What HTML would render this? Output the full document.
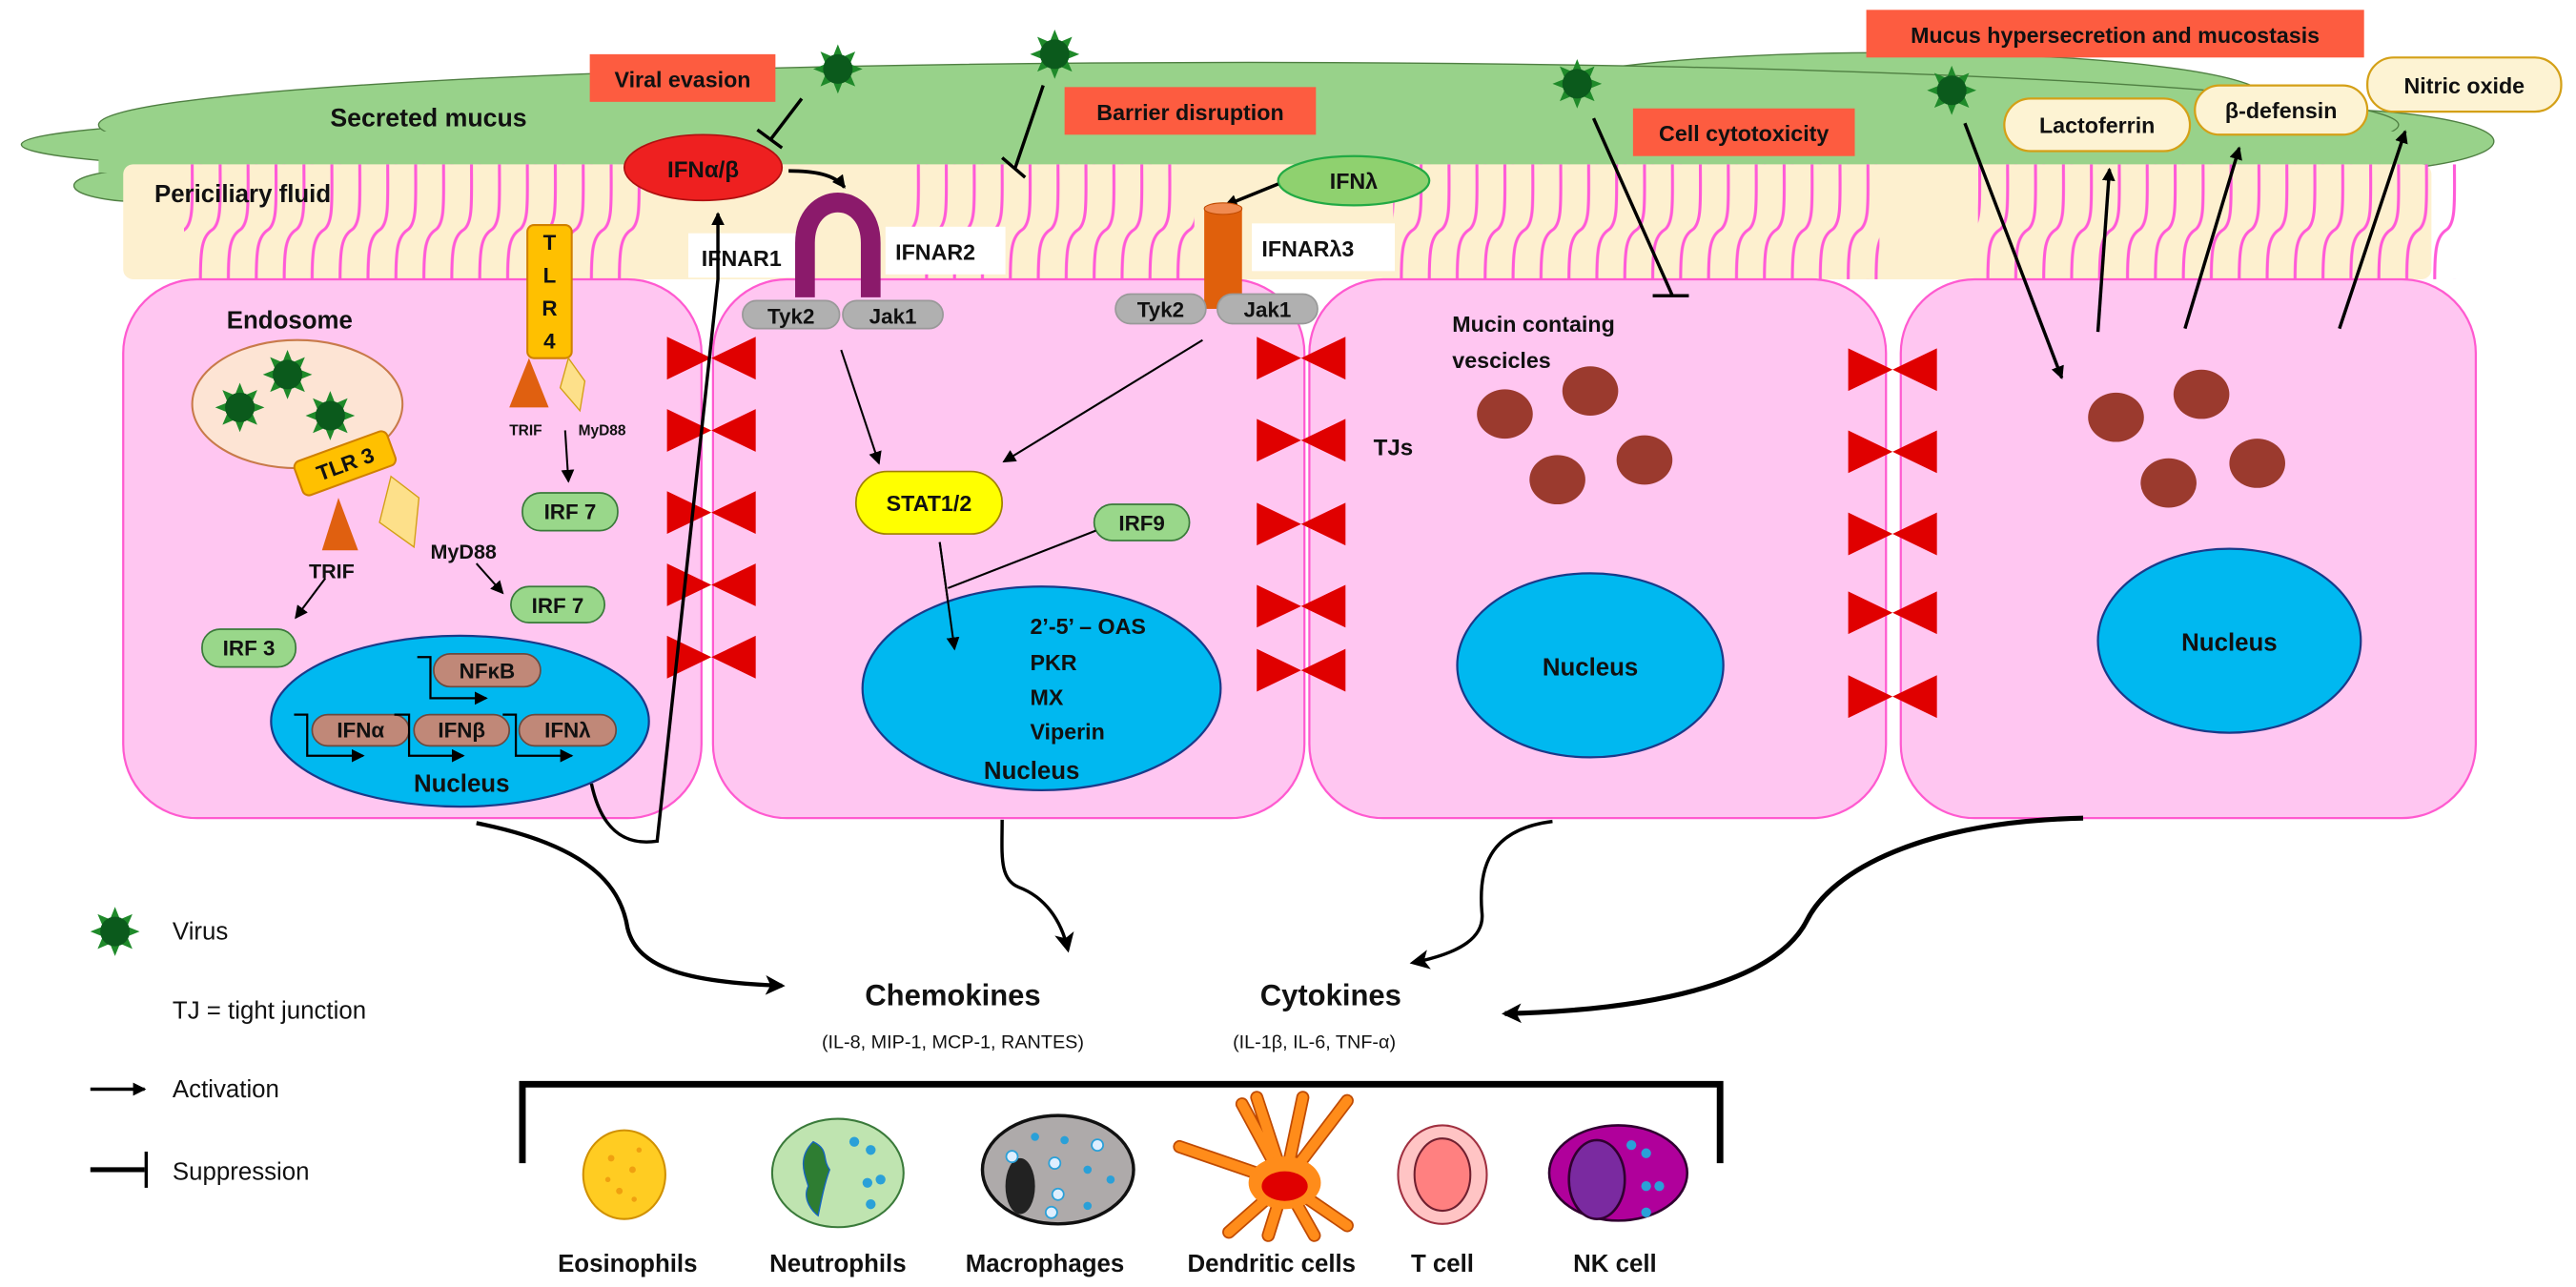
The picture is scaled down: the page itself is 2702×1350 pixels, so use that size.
<!DOCTYPE html>
<html><head><meta charset="utf-8"><style>html,body{margin:0;padding:0;background:#fff}svg{display:block}text{font-family:"Liberation Sans",sans-serif;fill:#111}</style></head><body>
<svg width="2702" height="1350" viewBox="0 0 1568 783.4" preserveAspectRatio="none" xmlns="http://www.w3.org/2000/svg">
<defs>
<marker id="ar" markerWidth="8" markerHeight="8" refX="7" refY="4" orient="auto" markerUnits="userSpaceOnUse"><path d="M0,0 L8,4 L0,8 Z" fill="#000"/></marker>
<marker id="arB" markerWidth="12" markerHeight="12" refX="10" refY="6" orient="auto" markerUnits="userSpaceOnUse"><path d="M0,0 L12,6 L0,12 L3,6 Z" fill="#000"/></marker>
<pattern id="cil" width="17" height="70" patternUnits="userSpaceOnUse" x="0" y="100"><path d="M3 70 C3 52,4 44,10 40 C16 36,15 22,15 0" fill="none" stroke="#ff5ad8" stroke-width="1.8"/></pattern>
<symbol id="v" viewBox="-16 -16 32 32" overflow="visible"><polygon points="15,0 7.39,3.06 10.6,10.6 3.06,7.39 0,15 -3.06,7.39 -10.6,10.6 -7.39,3.06 -15,0 -7.39,-3.06 -10.6,-10.6 -3.06,-7.39 0,-15 3.06,-7.39 10.6,-10.6 7.39,-3.06" fill="#1f8a2a"/><circle r="9" fill="#0b5a1c"/></symbol>
<symbol id="tj" viewBox="-27 -14 54 28" overflow="visible"><path d="M-27,-13 L-27,13 L0,0 Z M27,-13 L27,13 L0,0 Z" fill="#e00000"/></symbol>
</defs>

<!-- mucus -->
<g fill="#98d28a" stroke="#4f7f42" stroke-width="0.8">
<ellipse cx="90" cy="113" rx="45" ry="10"/>
<ellipse cx="250" cy="88" rx="237" ry="16"/>
<ellipse cx="340" cy="68" rx="190" ry="15"/>
<ellipse cx="1150" cy="60" rx="230" ry="28"/>
<ellipse cx="1400" cy="86" rx="118" ry="20"/>
<ellipse cx="760" cy="76" rx="700" ry="38"/>
</g>
<path d="M60,80 L1460,80 L1460,105 L60,105 Z" fill="#98d28a"/>
<text x="201" y="77" font-size="15.5" font-weight="bold">Secreted mucus</text>

<!-- periciliary -->
<rect x="75" y="100" width="1405" height="70" rx="6" fill="#fdf0cf"/>
<rect x="112" y="100" width="280" height="70" fill="url(#cil)"/>
<rect x="555" y="100" width="172" height="70" fill="url(#cil)"/>
<rect x="848" y="100" width="296" height="70" fill="url(#cil)"/>
<rect x="1204" y="100" width="292" height="70" fill="url(#cil)"/>
<text x="94" y="123" font-size="15" font-weight="bold">Periciliary fluid</text>

<!-- cells -->
<g fill="#ffc6f1" stroke="#ff5ad0" stroke-width="1.3">
<rect x="75" y="170" width="352" height="328" rx="45"/>
<rect x="434" y="170" width="360" height="328" rx="45"/>
<rect x="797" y="170" width="351" height="328" rx="45"/>
<rect x="1157" y="170" width="350" height="328" rx="45"/>
</g>

<!-- label boxes -->
<rect x="419" y="142" width="76" height="27" fill="#fff"/>
<text x="427" y="162" font-size="13.5" font-weight="bold">IFNAR1</text>
<rect x="539" y="138" width="73" height="29" fill="#fff"/>
<text x="545" y="158" font-size="13.5" font-weight="bold">IFNAR2</text>
<rect x="762" y="136" width="87" height="29" fill="#fff"/>
<text x="768" y="156" font-size="13.5" font-weight="bold">IFNARλ3</text>

<!-- top red boxes -->
<rect x="359" y="33" width="113" height="29" fill="#fd5c40"/>
<text x="415.5" y="53" font-size="13.5" font-weight="bold" text-anchor="middle">Viral evasion</text>
<rect x="648" y="53" width="153" height="29" fill="#fd5c40"/>
<text x="724.5" y="73" font-size="13.5" font-weight="bold" text-anchor="middle">Barrier disruption</text>
<rect x="994" y="66" width="135" height="29" fill="#fd5c40"/>
<text x="1061.5" y="86" font-size="13.5" font-weight="bold" text-anchor="middle">Cell cytotoxicity</text>
<rect x="1136" y="6" width="303" height="29" fill="#fd5c40"/>
<text x="1287.5" y="26" font-size="13.5" font-weight="bold" text-anchor="middle">Mucus hypersecretion and mucostasis</text>

<!-- secreted products -->
<g fill="#fdf3d3" stroke="#d4a017" stroke-width="1.3">
<rect x="1220" y="60" width="113" height="32" rx="16"/>
<rect x="1336" y="52" width="105" height="30" rx="15"/>
<rect x="1441" y="35" width="118" height="33" rx="16"/>
</g>
<text x="1276.5" y="81" font-size="13.5" font-weight="bold" text-anchor="middle">Lactoferrin</text>
<text x="1388.5" y="72" font-size="13.5" font-weight="bold" text-anchor="middle">β-defensin</text>
<text x="1500" y="57" font-size="13.5" font-weight="bold" text-anchor="middle">Nitric oxide</text>

<!-- IFN a/b -->
<ellipse cx="428" cy="102" rx="48" ry="20" fill="#ee2020" stroke="#b01010" stroke-width="1"/>
<text x="428" y="108" font-size="14" font-weight="bold" text-anchor="middle">IFNα/β</text>
<path d="M480,104 C495,104 508,106 514,114" fill="none" stroke="#000" stroke-width="2.2" marker-end="url(#ar)"/>

<!-- IFNλ -->
<ellipse cx="824" cy="110" rx="46" ry="15" fill="#8fd16f" stroke="#22aa44" stroke-width="1.3"/>
<text x="824" y="115" font-size="13.5" font-weight="bold" text-anchor="middle">IFNλ</text>
<line x1="778" y1="112" x2="746" y2="125" stroke="#000" stroke-width="2" marker-end="url(#ar)"/>

<!-- IFNAR arch -->
<path d="M490,181 L490,148 C490,115 530,115 530,148 L530,181" fill="none" stroke="#8b1a6b" stroke-width="12"/>
<!-- IFNAR lambda cylinder -->
<rect x="733" y="127" width="23" height="61" fill="#e0600c"/>
<ellipse cx="744.5" cy="127" rx="11.5" ry="3.5" fill="#f08a50" stroke="#c04a00" stroke-width="0.6"/>

<!-- Tyk2/Jak1 -->
<g fill="#b0b0b0" stroke="#999" stroke-width="1">
<rect x="452" y="183" width="59" height="17" rx="8.5"/>
<rect x="513" y="183" width="61" height="17" rx="8.5"/>
<rect x="679" y="179" width="55" height="18" rx="9"/>
<rect x="741" y="179" width="61" height="18" rx="9"/>
</g>
<g font-size="13" font-weight="bold" text-anchor="middle">
<text x="481.5" y="197">Tyk2</text><text x="543.5" y="197">Jak1</text>
<text x="706.5" y="193">Tyk2</text><text x="771.5" y="193">Jak1</text>
</g>

<!-- viruses -->
<use href="#v" x="494" y="26" width="32" height="32"/>
<use href="#v" x="626" y="17" width="32" height="32"/>
<use href="#v" x="944" y="35" width="32" height="32"/>
<use href="#v" x="1172" y="39" width="32" height="32"/>
<use href="#v" x="54" y="551" width="32" height="32"/>

<!-- inhibitions -->
<g stroke="#000" stroke-width="2" fill="none">
<line x1="488" y1="60" x2="469" y2="85"/><line x1="461" y1="79" x2="476" y2="90"/>
<line x1="635" y1="52" x2="618" y2="102"/><line x1="610" y1="96" x2="624" y2="108"/>
<line x1="970" y1="72" x2="1018" y2="180"/><line x1="1006" y1="180" x2="1028" y2="180"/>
</g>
<g stroke="#000" stroke-width="2" fill="none" marker-end="url(#ar)">
<line x1="1196" y1="75" x2="1255" y2="230"/>
<line x1="1277" y1="202" x2="1284" y2="103"/>
<line x1="1330" y1="200" x2="1363" y2="90"/>
<line x1="1424" y1="200" x2="1464" y2="80"/>
</g>

<!-- tight junctions -->
<g>
<use href="#tj" x="406" y="204" width="54" height="28"/>
<use href="#tj" x="406" y="248" width="54" height="28"/>
<use href="#tj" x="406" y="298" width="54" height="28"/>
<use href="#tj" x="406" y="342" width="54" height="28"/>
<use href="#tj" x="406" y="386" width="54" height="28"/>
<use href="#tj" x="765" y="204" width="54" height="28"/>
<use href="#tj" x="765" y="254" width="54" height="28"/>
<use href="#tj" x="765" y="305" width="54" height="28"/>
<use href="#tj" x="765" y="355" width="54" height="28"/>
<use href="#tj" x="765" y="394" width="54" height="28"/>
<use href="#tj" x="1125" y="211" width="54" height="28"/>
<use href="#tj" x="1125" y="261" width="54" height="28"/>
<use href="#tj" x="1125" y="311" width="54" height="28"/>
<use href="#tj" x="1125" y="359" width="54" height="28"/>
<use href="#tj" x="1125" y="410" width="54" height="28"/>
</g>

<!-- cell 1 -->
<text x="138" y="200" font-size="15" font-weight="bold">Endosome</text>
<ellipse cx="181" cy="246" rx="64" ry="39" fill="#fde4d4" stroke="#c87a4a" stroke-width="1.2"/>
<use href="#v" x="159" y="212" width="32" height="32"/>
<use href="#v" x="130" y="232" width="32" height="32"/>
<use href="#v" x="185" y="237" width="32" height="32"/>
<g transform="translate(210,282) rotate(-20)">
<rect x="-30" y="-11" width="60" height="22" rx="4" fill="#ffc000" stroke="#d08000" stroke-width="1.2"/>
<text x="0" y="5" font-size="13" font-weight="bold" text-anchor="middle">TLR 3</text>
</g>
<polygon points="206,303 196,335 218,335" fill="#e06010"/>
<polygon points="238,290 255,303 252,333 231,318" fill="#fde08a" stroke="#d4a017" stroke-width="0.8"/>
<text x="188" y="352" font-size="12.5" font-weight="bold">TRIF</text>
<text x="262" y="340" font-size="12.5" font-weight="bold">MyD88</text>
<g stroke="#000" stroke-width="1.2" fill="none" marker-end="url(#ar)">
<line x1="198" y1="352" x2="180" y2="376"/>
<line x1="290" y1="343" x2="306" y2="361"/>
<line x1="344" y1="262" x2="346" y2="293"/>
</g>
<rect x="321" y="137" width="27" height="81" rx="4" fill="#ffc000" stroke="#d08000" stroke-width="1.2"/>
<g font-size="13" font-weight="bold" text-anchor="middle"><text x="334.5" y="152">T</text><text x="334.5" y="172">L</text><text x="334.5" y="192">R</text><text x="334.5" y="212">4</text></g>
<polygon points="322,218 310,248 334,248" fill="#e06010"/>
<polygon points="346,218 356,232 353,250 341,236" fill="#fde08a" stroke="#d4a017" stroke-width="0.8"/>
<text x="310" y="265" font-size="9" font-weight="bold">TRIF</text>
<text x="352" y="265" font-size="9" font-weight="bold">MyD88</text>
<g fill="#99d78a" stroke="#3a7a3a" stroke-width="1">
<rect x="318" y="300" width="58" height="23" rx="11"/>
<rect x="311" y="357" width="57" height="22" rx="11"/>
<rect x="123" y="383" width="57" height="23" rx="11"/>
<rect x="666" y="307" width="58" height="22" rx="11"/>
</g>
<g font-size="13" font-weight="bold" text-anchor="middle">
<text x="347" y="316">IRF 7</text><text x="339.5" y="373">IRF 7</text><text x="151.5" y="399">IRF 3</text><text x="695" y="323">IRF9</text>
</g>
<ellipse cx="280" cy="439" rx="115" ry="52" fill="#00b8f0" stroke="#1a3a8a" stroke-width="1.3"/>
<g fill="#c08878" stroke="#6a4a40" stroke-width="1">
<rect x="264" y="398" width="65" height="20" rx="10"/>
<rect x="190" y="435" width="59" height="19" rx="9.5"/>
<rect x="252" y="435" width="58" height="19" rx="9.5"/>
<rect x="316" y="435" width="59" height="19" rx="9.5"/>
<rect x="567" y="407" width="49" height="23" rx="10"/>
</g>
<g font-size="13" font-weight="bold" text-anchor="middle">
<text x="296.5" y="413">NFκB</text><text x="219.5" y="449">IFNα</text><text x="281" y="449">IFNβ</text><text x="345.5" y="449">IFNλ</text><text x="591.5" y="424">ISG</text>
</g>
<g stroke="#000" stroke-width="1.3" fill="none" marker-end="url(#ar)">
<path d="M254,400 H262 V425 H296"/>
<path d="M179,435 H187 V460 H221"/>
<path d="M240,435 H249 V460 H282"/>
<path d="M306,435 H314 V460 H348"/>
<path d="M555,409 H564 V433 H597"/>
</g>
<text x="281" y="482" font-size="15" font-weight="bold" text-anchor="middle">Nucleus</text>
<path d="M360,477 C366,505 380,515 400,512 C405,470 428,250 437,170 L437,130" fill="none" stroke="#000" stroke-width="2" marker-end="url(#ar)"/>

<!-- cell 2 -->
<g stroke="#000" stroke-width="1.2" fill="none" marker-end="url(#ar)">
<line x1="512" y1="213" x2="535" y2="282"/>
<line x1="732" y1="207" x2="611" y2="281"/>
<line x1="572" y1="330" x2="581" y2="395"/>
</g>
<line x1="667" y1="323" x2="577" y2="358" stroke="#000" stroke-width="1.2"/>
<ellipse cx="634" cy="419" rx="109" ry="62" fill="#00b8f0" stroke="#1a3a8a" stroke-width="1.3"/>
<rect x="521" y="287" width="89" height="38" rx="19" fill="#ffff00" stroke="#a08000" stroke-width="1"/>
<text x="565.5" y="311" font-size="13.5" font-weight="bold" text-anchor="middle">STAT1/2</text>
<line x1="572" y1="330" x2="581" y2="395" stroke="#000" stroke-width="1.2" marker-end="url(#ar)"/>
<g font-size="13.5" font-weight="bold">
<text x="627" y="386">2’-5’ – OAS</text><text x="627" y="408">PKR</text><text x="627" y="429">MX</text><text x="627" y="450">Viperin</text>
</g>
<text x="628" y="474" font-size="15" font-weight="bold" text-anchor="middle">Nucleus</text>

<!-- cell 3 -->
<text x="884" y="202" font-size="13.5" font-weight="bold">Mucin containg</text>
<text x="884" y="224" font-size="13.5" font-weight="bold">vescicles</text>
<text x="836" y="277" font-size="14" font-weight="bold">TJs</text>
<g fill="#9b3a2e">
<ellipse cx="916" cy="252" rx="17" ry="15"/><ellipse cx="968" cy="238" rx="17" ry="15"/><ellipse cx="1001" cy="280" rx="17" ry="15"/><ellipse cx="948" cy="292" rx="17" ry="15"/>
<ellipse cx="1288" cy="254" rx="17" ry="15"/><ellipse cx="1340" cy="240" rx="17" ry="15"/><ellipse cx="1374" cy="282" rx="17" ry="15"/><ellipse cx="1320" cy="294" rx="17" ry="15"/>
</g>
<ellipse cx="968" cy="405" rx="81" ry="56" fill="#00b8f0" stroke="#1a3a8a" stroke-width="1.3"/>
<text x="968" y="411" font-size="15" font-weight="bold" text-anchor="middle">Nucleus</text>
<ellipse cx="1357" cy="390" rx="80" ry="56" fill="#00b8f0" stroke="#1a3a8a" stroke-width="1.3"/>
<text x="1357" y="396" font-size="15" font-weight="bold" text-anchor="middle">Nucleus</text>

<!-- bottom curves -->
<g stroke="#000" fill="none" marker-end="url(#arB)">
<path d="M290,501 C360,515 378,540 382,565 C388,590 420,598 476,600" stroke-width="2.5"/>
<path d="M610,499 C610,520 608,535 620,540 C636,546 646,560 650,578" stroke-width="2"/>
<path d="M945,500 C905,505 900,530 902,555 C904,570 890,580 860,586" stroke-width="2"/>
<path d="M1268,498 C1170,500 1115,530 1100,560 C1080,600 1000,615 916,617" stroke-width="3"/>
</g>
<text x="580" y="612" font-size="18" font-weight="bold" text-anchor="middle">Chemokines</text>
<text x="810" y="612" font-size="18" font-weight="bold" text-anchor="middle">Cytokines</text>
<text x="580" y="638" font-size="11.5" text-anchor="middle">(IL-8, MIP-1, MCP-1, RANTES)</text>
<text x="800" y="638" font-size="11.5" text-anchor="middle">(IL-1β, IL-6, TNF-α)</text>
<path d="M318,708 V660 H1047 V708" fill="none" stroke="#000" stroke-width="4"/>

<!-- immune cells -->
<ellipse cx="380" cy="715" rx="25" ry="27" fill="#ffcc22" stroke="#d09000" stroke-width="1.2"/>
<g fill="#f0a010"><circle cx="372" cy="705" r="2"/><circle cx="385" cy="712" r="2"/><circle cx="377" cy="725" r="2"/><circle cx="389" cy="700" r="1.6"/><circle cx="370" cy="718" r="1.6"/><circle cx="386" cy="730" r="1.6"/></g>
<ellipse cx="510" cy="714" rx="40" ry="33" fill="#bfe4b0" stroke="#3a7a3a" stroke-width="1.2"/>
<path d="M495,695 C485,705 490,715 492,722 C488,730 495,738 498,740 C500,730 502,720 505,712 C500,705 505,700 495,695 Z" fill="#2e7d32" stroke="#1565c0" stroke-width="0.8"/>
<g fill="#2aa0d8"><circle cx="520" cy="695" r="3"/><circle cx="530" cy="700" r="3"/><circle cx="528" cy="720" r="3"/><circle cx="536" cy="718" r="3"/><circle cx="530" cy="733" r="3"/></g>
<ellipse cx="644" cy="712" rx="46" ry="33" fill="#aeaaaa" stroke="#111" stroke-width="2"/>
<ellipse cx="621" cy="722" rx="9" ry="17" fill="#222"/>
<g fill="#dfefff" stroke="#2aa0d8" stroke-width="1"><circle cx="616" cy="704" r="3.5"/><circle cx="642" cy="708" r="3.5"/><circle cx="668" cy="697" r="3.5"/><circle cx="644" cy="727" r="3.5"/><circle cx="640" cy="738" r="3.5"/></g>
<g fill="#2aa0d8"><circle cx="630" cy="692" r="2.5"/><circle cx="648" cy="694" r="2.5"/><circle cx="662" cy="712" r="2.5"/><circle cx="676" cy="718" r="2.5"/><circle cx="662" cy="734" r="2.5"/></g>
<g stroke="#c04a00" stroke-width="8" stroke-linecap="round" fill="none">
<path d="M782,720 L756,672 M782,720 L765,668 M782,720 L793,668 M782,720 L820,670 M782,720 L718,698 M782,720 L748,750 M782,720 L772,752 M782,720 L800,752 M782,720 L820,746"/>
</g>
<g stroke="#ff8c1a" stroke-width="6" stroke-linecap="round" fill="none">
<path d="M782,720 L756,672 M782,720 L765,668 M782,720 L793,668 M782,720 L820,670 M782,720 L718,698 M782,720 L748,750 M782,720 L772,752 M782,720 L800,752 M782,720 L820,746"/>
</g>
<ellipse cx="782" cy="720" rx="22" ry="16" fill="#ff8c1a"/>
<ellipse cx="782" cy="722" rx="14" ry="9" fill="#e00000"/>
<ellipse cx="878" cy="715" rx="27" ry="30" fill="#ffc4c4" stroke="#a03040" stroke-width="1.2"/>
<ellipse cx="878" cy="715" rx="17" ry="22" fill="#ff8080" stroke="#702030" stroke-width="1.2"/>
<ellipse cx="985" cy="714" rx="42" ry="29" fill="#b0009b" stroke="#300030" stroke-width="1.5"/>
<ellipse cx="972" cy="718" rx="17" ry="24" fill="#7a2aa0" stroke="#300030" stroke-width="1.5"/>
<g fill="#2aa0d8"><circle cx="993" cy="697" r="3"/><circle cx="1002" cy="702" r="3"/><circle cx="1002" cy="722" r="3"/><circle cx="1010" cy="722" r="3"/><circle cx="1002" cy="738" r="3"/></g>
<g font-size="15" font-weight="bold" text-anchor="middle">
<text x="382" y="774">Eosinophils</text><text x="510" y="774">Neutrophils</text><text x="636" y="774">Macrophages</text><text x="774" y="774">Dendritic cells</text><text x="878" y="774">T cell</text><text x="983" y="774">NK cell</text>
</g>

<!-- legend -->
<g font-size="15">
<text x="105" y="572">Virus</text>
<text x="105" y="620">TJ = tight junction</text>
<text x="105" y="668">Activation</text>
<text x="105" y="718">Suppression</text>
</g>
<line x1="55" y1="663" x2="88" y2="663" stroke="#000" stroke-width="2" marker-end="url(#ar)"/>
<line x1="55" y1="712" x2="88" y2="712" stroke="#000" stroke-width="3"/>
<line x1="89" y1="701" x2="89" y2="723" stroke="#000" stroke-width="2"/>
</svg>
</body></html>
